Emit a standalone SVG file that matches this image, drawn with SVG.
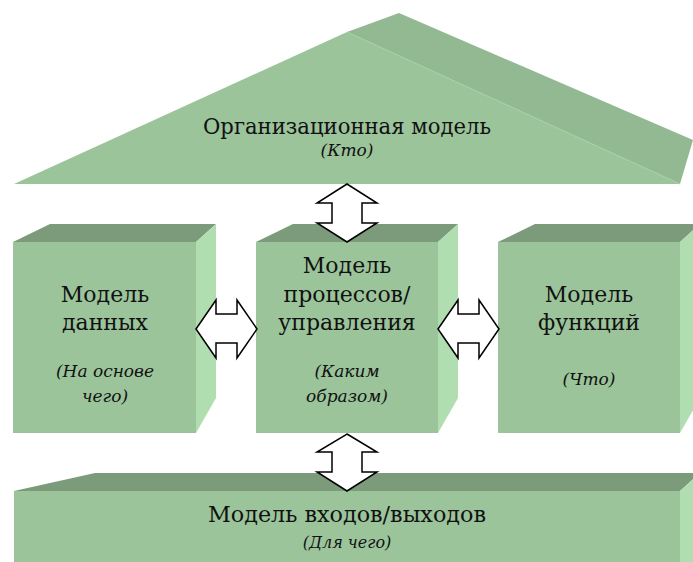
<svg xmlns="http://www.w3.org/2000/svg" width="693" height="562" viewBox="0 0 693 562">
<style>
.front{fill:#9BC49B;}
.top{fill:#7B9B7B;}
.side{fill:#B1DEB1;}
.back{fill:#93B993;}
text{font-family:'DejaVu Serif',serif;fill:#111;text-anchor:middle;}
.m{font-size:22px;}
.i{font-style:italic;font-size:17px;}
.arr{fill:#fff;stroke:#000;stroke-width:1.5;stroke-linejoin:miter;}
</style>
<rect width="693" height="562" fill="#fff"/>
<g id="roof">
<polygon class="back" points="347,32 399,13 693,140 680,184"/>
<polygon class="front" points="14,184 347,32 680,184"/>
<line x1="347" y1="32" x2="680" y2="184" stroke="#A8CFA8" stroke-width="1"/>
<text x="347" y="134" font-size="22" textLength="288" lengthAdjust="spacingAndGlyphs">Организационная модель</text>
<text x="347" y="156" font-style="italic" font-size="17">(Кто)</text>
</g>
<g id="data">
<polygon class="top" points="13,242 50,224 216,224 196,242"/>
<polygon class="side" points="196,242 216,224 216,398 196,433"/>
<rect class="front" x="13" y="242" width="183" height="191"/>
<text class="m" x="105" y="302">Модель</text>
<text class="m" x="105" y="330">данных</text>
<text class="i" x="105" y="377">(На основе</text>
<text class="i" x="105" y="402">чего)</text>
</g>
<g id="process">
<polygon class="top" points="256,242 293,224 458,224 438,242"/>
<polygon class="side" points="438,242 458,224 458,398 438,433"/>
<rect class="front" x="256" y="242" width="182" height="191"/>
<text class="m" x="347" y="273">Модель</text>
<text class="m" x="347" y="302">процессов/</text>
<text class="m" x="347" y="330">управления</text>
<text class="i" x="347" y="377">(Каким</text>
<text class="i" x="347" y="402">образом)</text>
</g>
<g id="functions">
<polygon class="top" points="498,242 535,224 700,224 680,242"/>
<polygon class="side" points="680,242 700,224 700,398 680,433"/>
<rect class="front" x="498" y="242" width="182" height="191"/>
<text class="m" x="589" y="302">Модель</text>
<text class="m" x="589" y="330">функций</text>
<text class="i" x="589" y="385">(Что)</text>
</g>
<g id="io">
<polygon class="top" points="14,491 95,473 700,473 680,491"/>
<polygon class="side" points="680,491 700,473 700,562 680,562"/>
<rect class="front" x="14" y="491" width="666" height="71"/>
<text x="347" y="522" font-size="22" textLength="278" lengthAdjust="spacingAndGlyphs">Модель входов/выходов</text>
<text x="347" y="548" font-style="italic" font-size="16">(Для чего)</text>
</g>
<g id="connectors">
<polygon class="arr" points="347,184 377,203 362,203 362,223 377,223 347,242 317,223 332,223 332,203 317,203"/>
<polygon class="arr" points="347,434 377,452 362,452 362,472 377,472 347,491 317,472 332,472 332,452 317,452"/>
<polygon class="arr" points="196,329 216,300 216,314 237,314 237,300 257,329 237,358 237,343 216,343 216,358"/>
<polygon class="arr" points="438,329 458,300 458,314 479,314 479,300 499,329 479,358 479,343 458,343 458,358"/>
</g>
</svg>
